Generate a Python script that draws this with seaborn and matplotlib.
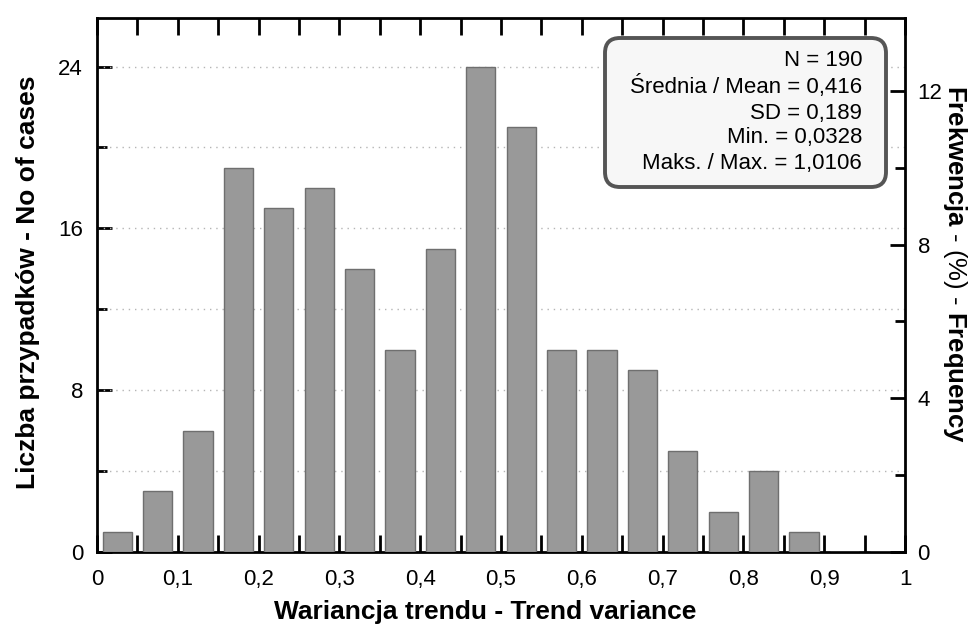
import matplotlib
matplotlib.use("Agg")
import matplotlib.pyplot as plt
from matplotlib.ticker import MultipleLocator, FuncFormatter
from matplotlib.patches import FancyBboxPatch
from matplotlib.transforms import IdentityTransform
import seaborn as sns
import numpy as np

# Data (bin width 0.05)
bin_left = [0.00, 0.05, 0.10, 0.15, 0.20, 0.25, 0.30, 0.35, 0.40, 0.45,
            0.50, 0.55, 0.60, 0.65, 0.70, 0.75, 0.80, 0.85, 0.90, 0.95]
counts = [1, 3, 6, 19, 17, 18, 14, 10, 15, 24,
          21, 10, 10, 9, 5, 2, 4, 1, 0, 0]
bin_width = 0.05
n_total = 190
stats_lines = ["N = 190",
               "Średnia / Mean = 0,416",
               "SD = 0,189",
               "Min. = 0,0328",
               "Maks. / Max. = 1,0106"]
x_ticks = [0, 0.1, 0.2, 0.3, 0.4, 0.5, 0.6, 0.7, 0.8, 0.9, 1.0]
left_ticks = [0, 8, 16, 24]
right_ticks = [0, 4, 8, 12]

sns.set_theme(style="white")
plt.rcParams['font.family'] = ['Liberation Sans', 'DejaVu Sans']
plt.rcParams['mathtext.fontset'] = 'custom'
plt.rcParams['mathtext.rm'] = 'Liberation Sans'
plt.rcParams['mathtext.bf'] = 'Liberation Sans:bold'
for k in ['text.color', 'axes.labelcolor', 'xtick.color', 'ytick.color',
          'xtick.labelcolor', 'ytick.labelcolor']:
    plt.rcParams[k] = 'black'

W, H = 971, 624
fig = plt.figure(figsize=(W/100, H/100), dpi=100)
ax = fig.add_axes([97/W, 1-552/H, (905-97)/W, (552-18)/H])

centers = [b + bin_width/2 for b in bin_left]
edges = bin_left + [bin_left[-1] + bin_width]
sns.histplot(x=centers, weights=counts, bins=edges, shrink=0.72,
             color="#999999", edgecolor="#6f6f6f", linewidth=1.0, alpha=1.0,
             ax=ax, zorder=3)

ymax = 26.4
ax.set_xlim(0, 1)
ax.set_ylim(0, ymax)

# grid lines
for g in [4, 8, 12, 16, 20, 24]:
    ax.axhline(g, color="#b5b5b5", linestyle=(0, (1, 3.5)), linewidth=1.0, zorder=1)

for s in ax.spines.values():
    s.set_linewidth(2)
    s.set_color("black")
    s.set_visible(True)

ax.xaxis.set_minor_locator(MultipleLocator(0.05))
ax.set_xticks(x_ticks)
fmt = FuncFormatter(lambda v, p: ("%g" % v).replace(".", ","))
ax.xaxis.set_major_formatter(fmt)
ax.set_yticks(left_ticks)
ax.yaxis.set_minor_locator(MultipleLocator(4))
ax.tick_params(axis="x", which="both", direction="in", length=12, width=2,
               top=True, bottom=True, labelsize=16, pad=12, colors="black")
ax.tick_params(axis="y", which="major", direction="in", length=11, width=2,
               left=True, labelsize=16, pad=10, colors="black")
ax.tick_params(axis="y", which="minor", direction="in", length=7, width=2, left=True,
               colors="black")

ax.set_xlabel("Wariancja trendu - Trend variance", fontsize=19, fontweight="bold",
              color="black")
ax.xaxis.set_label_coords((485-97)/808, (552-600)/534)
ax.set_ylabel("Liczba przypadków - No of cases", fontsize=19, fontweight="bold",
              color="black")
ax.yaxis.set_label_coords((40-97)/808, (552-282)/534)

ax2 = ax.twinx()
ax2.set_ylim(0, ymax * 100 / n_total)
ax2.set_yticks(right_ticks)
ax2.yaxis.set_minor_locator(MultipleLocator(2))
ax2.tick_params(axis="y", which="major", direction="in", length=11, width=2,
                right=True, labelsize=16, pad=9, colors="black")
ax2.tick_params(axis="y", which="minor", direction="in", length=7, width=2, right=True,
                colors="black")
for s in ax2.spines.values():
    s.set_visible(False)
ax2.grid(False)

fig.text(955/W, 1-264/H, r"$\mathbf{Frekwencja}$ - (%) - $\mathbf{Frequency}$",
         fontsize=18.5, rotation=270, ha="center", va="center", color="black")

# statistics box
box = FancyBboxPatch((605, H-187), 886-605, 187-38,
                     boxstyle="round,pad=0,rounding_size=15",
                     transform=IdentityTransform(), facecolor="#f7f7f7",
                     edgecolor="#555555", linewidth=2.8, zorder=10)
fig.patches.append(box)
fig.text(862/W, 1-50/H, "\n".join(stats_lines), ha="right", va="top",
         fontsize=16, linespacing=1.25, zorder=11, color="black")

fig.savefig("out.png", dpi=100)
